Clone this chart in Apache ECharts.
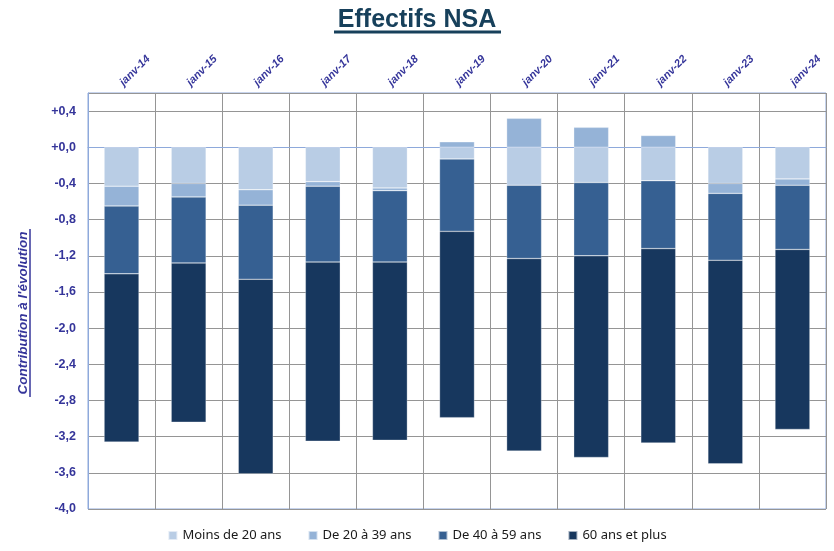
<!DOCTYPE html>
<html>
<head>
<meta charset="utf-8">
<script src="https://cdn.jsdelivr.net/npm/echarts@6/dist/echarts.min.js"></script>
<style>html,body{margin:0;padding:0;background:#fff;}#chart{width:834px;height:551px;}</style>
</head>
<body>
<div id="chart"></div>
<script>
const categories = ['janv-14','janv-15','janv-16','janv-17','janv-18','janv-19','janv-20','janv-21','janv-22','janv-23','janv-24'];
const moins20 = [-0.43, -0.40, -0.47, -0.38, -0.45, -0.13, -0.42, -0.39, -0.37, -0.40, -0.35];
const de20a39 = [-0.22, -0.15, -0.17, -0.05, -0.03, 0.06, 0.32, 0.22, 0.13, -0.11, -0.07];
const de40a59 = [-0.75, -0.73, -0.82, -0.84, -0.79, -0.80, -0.81, -0.81, -0.75, -0.74, -0.71];
const plus60 = [-1.86, -1.76, -2.15, -1.98, -1.97, -2.06, -2.13, -2.23, -2.15, -2.25, -1.99];
const seriesNames = ['Moins de 20 ans', 'De 20 à 39 ans', 'De 40 à 59 ans', '60 ans et plus'];
const seriesColors = ['#B9CDE5', '#95B3D7', '#366092', '#17375E'];
const seriesData = [moins20, de20a39, de40a59, plus60];

const labelColor = '#35359A';
const chart = echarts.init(document.getElementById('chart'), null, {renderer: 'canvas'});
chart.setOption({
  animation: false,
  title: {
    text: 'Effectifs NSA', left: 'center', top: 3,
    textStyle: {fontFamily: 'Liberation Sans', fontSize: 25, fontWeight: 'bold', color: '#17405B'}
  },
  legend: {
    bottom: 4, left: 'center', itemWidth: 9, itemHeight: 9, itemGap: 26, icon: 'rect',
    textStyle: {fontFamily: 'Noto Sans', fontSize: 13, color: '#1a1a1a'},
    data: seriesNames
  },
  grid: {left: 88, right: 8, top: 93, bottom: 42, show: true, borderColor: '#8EA9DB', borderWidth: 1},
  xAxis: {
    type: 'category', position: 'top', data: categories, boundaryGap: true,
    axisLine: {show: true, lineStyle: {color: '#8EA9DB', width: 1}},
    axisTick: {show: false},
    splitLine: {show: true, lineStyle: {color: '#959595', width: 1}},
    axisLabel: {rotate: 45, margin: 9, fontFamily: 'Liberation Sans', fontStyle: 'italic', fontWeight: 'bold', fontSize: 11, color: labelColor, interval: 0}
  },
  yAxis: {
    type: 'value', min: -4, max: 0.6, interval: 0.4,
    axisLine: {show: true, lineStyle: {color: '#8EA9DB', width: 1}},
    axisTick: {show: false},
    splitLine: {show: true, lineStyle: {color: '#959595', width: 1}},
    axisLabel: {
      showMaxLabel: false, margin: 12, fontFamily: 'Liberation Sans', fontWeight: 'bold', fontSize: 12.5, color: labelColor,
      formatter: function (v) {
        const r = Math.round(v * 10) / 10;
        if (r > 0.55) return '';
        const s = Math.abs(r).toFixed(1).replace('.', ',');
        return (r >= 0 ? '+' : '-') + s;
      }
    }
  },
  graphic: [
    {type: 'line', shape: {x1: 334, y1: 32, x2: 501, y2: 32}, style: {stroke: '#17405B', lineWidth: 3}},
    {type: 'text', x: 23, y: 313, rotation: Math.PI / 2,
     style: {text: "Contribution à l'évolution", font: 'italic bold 13.5px "Liberation Sans"', fill: labelColor, align: 'center', verticalAlign: 'middle'}},
    {type: 'line', shape: {x1: 30, y1: 229, x2: 30, y2: 397}, style: {stroke: labelColor, lineWidth: 1.5}}
  ],
  series: seriesNames.map((name, i) => ({
    name: name, type: 'bar', stack: 'total', barWidth: '52%',
    itemStyle: {color: seriesColors[i], borderColor: 'rgba(255,255,255,0.6)', borderWidth: 0.5},
    data: seriesData[i]
  }))
});
</script>
</body>
</html>
